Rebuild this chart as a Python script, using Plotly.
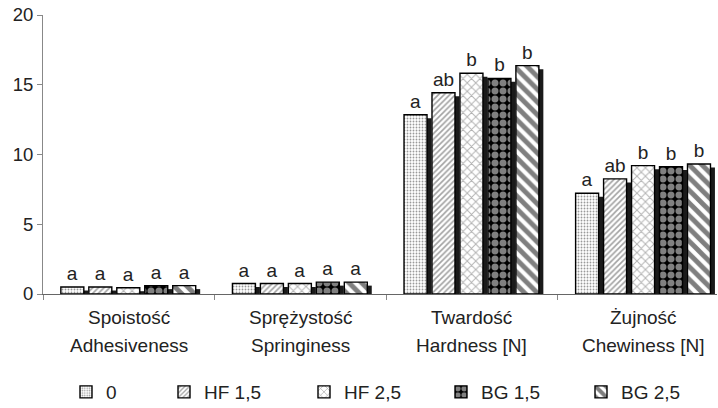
import plotly.graph_objects as go

categories = ["Spoistość", "Sprężystość", "Twardość", "Żujność"]
categories_en = ["Adhesiveness", "Springiness", "Hardness [N]", "Chewiness [N]"]
series_names = ["0", "HF 1,5", "HF 2,5", "BG 1,5", "BG 2,5"]
v_0 = [0.5, 0.75, 12.85, 7.22]
v_hf15 = [0.5, 0.75, 14.43, 8.25]
v_hf25 = [0.45, 0.75, 15.82, 9.2]
v_bg15 = [0.6, 0.85, 15.46, 9.13]
v_bg25 = [0.6, 0.85, 16.37, 9.32]
letters_0 = ["a", "a", "a", "a"]
letters_hf15 = ["a", "a", "ab", "ab"]
letters_hf25 = ["a", "a", "b", "b"]
letters_bg15 = ["a", "a", "b", "b"]
letters_bg25 = ["a", "a", "b", "b"]
y_ticks = [0, 5, 10, 15, 20]

values = [v_0, v_hf15, v_hf25, v_bg15, v_bg25]
letters = [letters_0, letters_hf15, letters_hf25, letters_bg15, letters_bg25]

patterns = [
    dict(shape=".", fgcolor="#333333", bgcolor="white", size=3, solidity=0.3),
    dict(shape="/", fgcolor="#444444", bgcolor="white", size=4, solidity=0.4),
    dict(shape="x", fgcolor="#666666", bgcolor="white", size=6, solidity=0.3),
    dict(shape=".", fgcolor="white", bgcolor="black", size=8, solidity=0.6),
    dict(shape="\\", fgcolor="black", bgcolor="white", size=9, solidity=0.55),
]

FONT = "Liberation Sans, Arial, sans-serif"
TXT = "#222222"
W, H = 718, 408
pitch = 0.163
start = -0.396
bw = 0.134
shadow_dx = 0.026

fig = go.Figure()

# shadows
for i, vals in enumerate(values):
    fig.add_trace(go.Bar(
        x=categories, y=[v - 0.25 for v in vals],
        offset=start + i * pitch + shadow_dx, width=bw,
        marker=dict(color="#1a1a1a", line=dict(width=0)),
        showlegend=False, hoverinfo="skip"))

legend_x_px = [66, 164, 304, 441, 581]
for i, vals in enumerate(values):
    lname = "legend" if i == 0 else f"legend{i+1}"
    fig.add_trace(go.Bar(
        x=categories, y=vals, name=series_names[i],
        offset=start + i * pitch, width=bw,
        marker=dict(color="white", pattern=patterns[i],
                    line=dict(color="black", width=1.4)),
        text=letters[i], textposition="outside",
        textfont=dict(size=19, color=TXT, family=FONT),
        cliponaxis=False, legend=lname))

layout_legends = {}
for i in range(5):
    lname = "legend" if i == 0 else f"legend{i+1}"
    layout_legends[lname] = dict(
        x=legend_x_px[i] / W, xref="container", xanchor="left",
        y=1 - 392 / H, yref="container", yanchor="middle",
        orientation="h",
        font=dict(size=19, color=TXT, family=FONT),
        bgcolor="rgba(0,0,0,0)")

annotations = []
for c, en in zip(categories, categories_en):
    annotations.append(dict(x=c, xref="x", y=-0.086, yref="paper",
                            text=c, showarrow=False, yanchor="middle",
                            font=dict(size=19, color=TXT, family=FONT)))
    annotations.append(dict(x=c, xref="x", y=-0.183, yref="paper",
                            text=en, showarrow=False, yanchor="middle",
                            font=dict(size=19, color=TXT, family=FONT)))

fig.update_layout(
    width=W, height=H,
    margin=dict(l=43, r=1, t=15, b=114),
    paper_bgcolor="white", plot_bgcolor="white",
    barmode="overlay",
    font=dict(family=FONT, size=18, color=TXT),
    annotations=annotations,
    **layout_legends,
)
fig.update_xaxes(
    type="category", range=[-0.5, 3.428],
    showline=True, linecolor="#666666", linewidth=1,
    ticks="outside", tickson="boundaries", ticklen=5, tickcolor="#888888",
    showticklabels=False, automargin=False,
    showgrid=False, zeroline=False)
fig.update_yaxes(
    range=[0, 20], tickvals=y_ticks,
    showline=True, linecolor="#888888", linewidth=1,
    ticks="outside", ticklen=5, tickcolor="#888888",
    tickfont=dict(size=18.5, color=TXT, family=FONT),
    automargin=False,
    showgrid=False, zeroline=False)

fig.write_html("out.html", config={"displayModeBar": False},
               post_script="document.body.style.margin='0';")
